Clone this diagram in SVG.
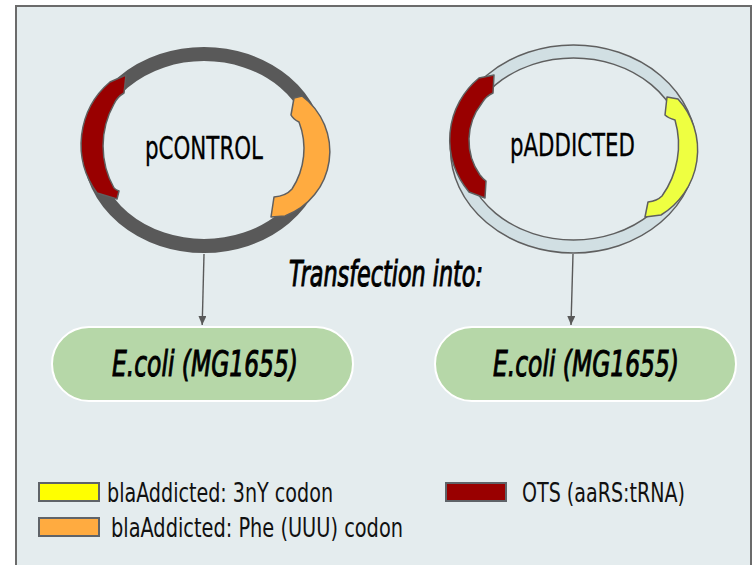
<svg xmlns="http://www.w3.org/2000/svg" width="754" height="565" viewBox="0 0 754 565">
  <style>
    .t { font-family: "DejaVu Sans Condensed", "Liberation Sans Narrow", "Roboto", sans-serif; fill: #000; }
    .title { font-size: 32px; stroke: #000; stroke-width: 0.3; }
    .it { font-size: 36px; font-style: italic; stroke: #000; stroke-width: 1; }
    .leg { font-size: 26px; fill: #111; }
    .seg { stroke: #5f5f5f; stroke-width: 1.5; stroke-linejoin: round; }
    .conn { stroke: #595959; stroke-width: 1.4; fill: none; }
    .pill { fill: #b6d7a8; stroke: #ffffff; stroke-width: 2; }
    .key { stroke: #5f6368; stroke-width: 2; }
  </style>
  <defs>
    <marker id="arr" markerUnits="userSpaceOnUse" markerWidth="10" markerHeight="9" refX="9" refY="4" orient="auto">
      <path d="M0,0 L9,4 L0,8 Z" fill="#595959"/>
    </marker>
  </defs>

  <rect x="16" y="6" width="735" height="600" fill="#e4ecee" stroke="#6b6b6b" stroke-width="2"/>

  <g id="plasmid-pcontrol">
    <ellipse cx="204" cy="150" rx="114" ry="96" fill="none" stroke="#595959" stroke-width="14"/>
    <path class="seg" fill="#990000" d="M 110,82 L 126,75 L 124,93 Q 117,97 114,104 A 86 86 0 0 0 114,188 Q 116,190 119,191 L 117,199 L 97,193 A 82 82 0 0 1 110,82 Z"/>
    <path class="seg" fill="#ffab40" d="M 294,98 L 302,96 A 69 69 0 0 1 285,216 L 271,217 L 274,197 Q 286,196 292,189 A 74 74 0 0 0 299,122 Q 293,119 291,115 Z"/>
    <text class="t title" x="204" y="159" text-anchor="middle" textLength="118" lengthAdjust="spacingAndGlyphs">pCONTROL</text>
  </g>

  <g id="plasmid-paddicted">
    <ellipse cx="573.5" cy="149" rx="123" ry="104" fill="#d1dfe3" stroke="#5f5f5f" stroke-width="1.5"/>
    <ellipse cx="573.5" cy="149" rx="110" ry="91" fill="#e4ecee" stroke="#5f5f5f" stroke-width="1.5"/>
    <path class="seg" fill="#990000" d="M 479,78 L 494,75 L 493,93 Q 486,96 482,103 A 60 60 0 0 0 480,175 Q 483,179 486,181 L 485,198 L 469,192 A 80 80 0 0 1 479,78 Z"/>
    <path class="seg" fill="#eeff41" d="M 667,97 L 678,99 A 76 76 0 0 1 661,215 L 645,217 L 648,202 Q 657,201 662,196 A 88 88 0 0 0 675,120 Q 668,118 665,115 Z"/>
    <text class="t title" x="572.5" y="156" text-anchor="middle" textLength="125" lengthAdjust="spacingAndGlyphs">pADDICTED</text>
  </g>

  <g id="label-transfection">
    <text class="t it" x="289" y="286" font-size="32" textLength="194" lengthAdjust="spacingAndGlyphs">Transfection into:</text>
  </g>

  <g id="ecoli-left">
    <rect class="pill" x="52" y="327" width="301" height="74" rx="37" ry="37"/>
    <text class="t it" x="112" y="376" textLength="186" lengthAdjust="spacingAndGlyphs">E.coli (MG1655)</text>
  </g>

  <g id="ecoli-right">
    <rect class="pill" x="435" y="327" width="301" height="74" rx="37" ry="37"/>
    <text class="t it" x="493" y="376" textLength="186" lengthAdjust="spacingAndGlyphs">E.coli (MG1655)</text>
  </g>

  <g id="connectors">
    <line class="conn" x1="204" y1="254" x2="202.2" y2="325" marker-end="url(#arr)"/>
    <line class="conn" x1="573" y1="254" x2="571" y2="325" marker-end="url(#arr)"/>
  </g>

  <g id="legend-3ny">
    <rect class="key" x="39" y="483" width="60" height="18" fill="#ffff00"/>
    <text class="t leg" x="107" y="502" textLength="226" lengthAdjust="spacingAndGlyphs">blaAddicted: 3nY codon</text>
  </g>
  <g id="legend-phe">
    <rect class="key" x="39" y="518" width="60" height="18" fill="#ffab40"/>
    <text class="t leg" x="111" y="537" textLength="292" lengthAdjust="spacingAndGlyphs">blaAddicted: Phe (UUU) codon</text>
  </g>
  <g id="legend-ots">
    <rect class="key" x="446" y="483" width="60" height="18" fill="#990000"/>
    <text class="t leg" x="522" y="502" textLength="163" lengthAdjust="spacingAndGlyphs">OTS (aaRS:tRNA)</text>
  </g>
</svg>
